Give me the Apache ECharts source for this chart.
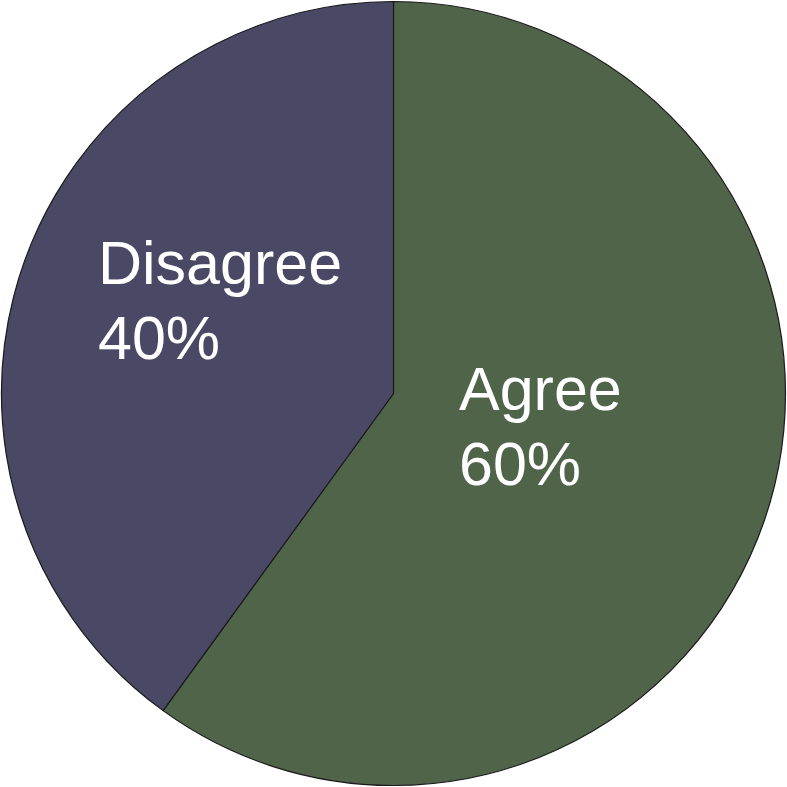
<!DOCTYPE html>
<html>
<head>
<meta charset="utf-8">
<script src="https://cdn.jsdelivr.net/npm/echarts@6/dist/echarts.min.js"></script>
<style>
html,body{margin:0;padding:0;background:#fff;}
#chart{width:787px;height:787px;}
</style>
</head>
<body>
<div id="chart"></div>
<script>
const categories = ['Agree', 'Disagree'];
const values = [60, 40];
const colors = ['#4f6449', '#494966'];
const labelPos = [[459, 431], [98, 305]];

const chart = echarts.init(document.getElementById('chart'), null, {renderer: 'canvas'});
chart.setOption({
  animation: false,
  backgroundColor: '#ffffff',
  series: [{
    type: 'pie',
    center: ['50%', '50%'],
    radius: 392,
    startAngle: 90,
    clockwise: true,
    data: categories.map((c, i) => ({name: c, value: values[i], itemStyle: {color: colors[i]}})),
    itemStyle: {borderColor: '#1a1a1a', borderWidth: 1.2},
    emphasis: {disabled: true},
    label: {
      show: true,
      position: 'inside',
      formatter: '{b}\n{d}%',
      color: '#ffffff',
      fontFamily: 'Liberation Sans, Arial, sans-serif',
      fontSize: 61,
      lineHeight: 75,
      align: 'left'
    },
    labelLine: {show: false},
    labelLayout: function (p) {
      return {x: labelPos[p.dataIndex][0], y: labelPos[p.dataIndex][1], align: 'left', verticalAlign: 'middle'};
    }
  }]
});
</script>
</body>
</html>
